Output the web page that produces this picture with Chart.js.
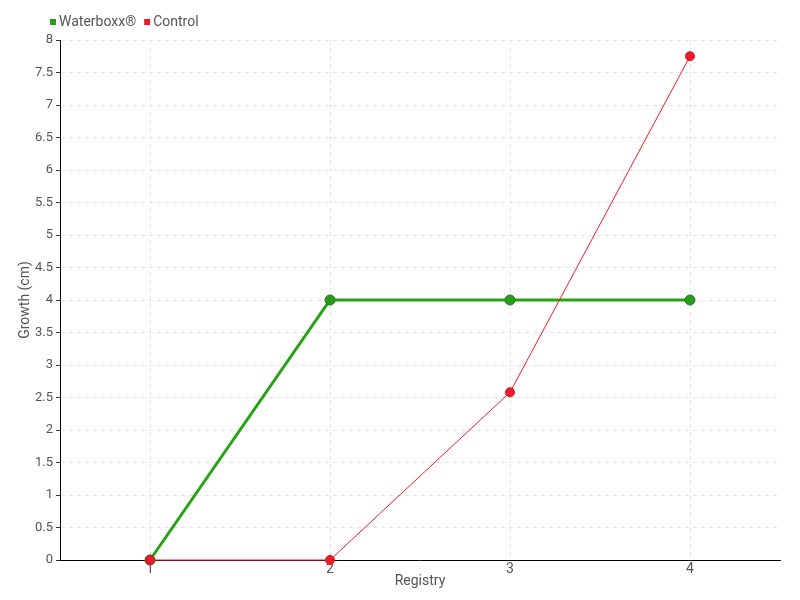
<!DOCTYPE html>
<html><head><meta charset="utf-8">
<script src="https://cdn.jsdelivr.net/npm/chart.js@4/dist/chart.umd.min.js"></script>
<style>html,body{margin:0;padding:0;background:#fff}#wrap{width:800px;height:600px}</style>
</head><body><div id="wrap"><canvas id="c" width="800" height="600"></canvas></div>
<script>
const categories = ['1', '2', '3', '4'];
const waterboxx = [0, 4, 4, 4];
const control = [0, 0, 2.58, 7.75];
const seriesNames = ['Waterboxx®', 'Control'];
const yTitle = 'Growth (cm)';
const xTitle = 'Registry';

const FONT = "Roboto, sans-serif";
const GREEN = '#26a214';
const RED = '#ee1c2b';

const legendPlugin = {
  id: 'customLegend',
  afterDraw(chart) {
    const ctx = chart.ctx;
    ctx.save();
    ctx.font = '14px ' + FONT;
    ctx.textBaseline = 'middle';
    let x = 50;
    const y = 22;
    chart.data.datasets.forEach(ds => {
      ctx.fillStyle = ds.borderColor;
      ctx.fillRect(x, y - 3, 6, 6);
      x += 9;
      ctx.fillStyle = '#555';
      ctx.fillText(ds.label, x, y);
      x += ctx.measureText(ds.label).width + 8;
    });
    ctx.restore();
  }
};

new Chart(document.getElementById('c'), {
  type: 'line',
  data: {
    labels: categories,
    datasets: [
      {
        label: seriesNames[0], data: waterboxx, borderColor: GREEN, backgroundColor: GREEN,
        borderWidth: 3, pointRadius: 5, pointBackgroundColor: '#2a9a1e', pointBorderColor: '#1c7f12',
        pointBorderWidth: 1, tension: 0, order: 2, clip: 8
      },
      {
        label: seriesNames[1], data: control, borderColor: RED, backgroundColor: RED,
        borderWidth: 1, pointRadius: 4.5, pointBackgroundColor: RED, pointBorderColor: '#e0101f',
        pointBorderWidth: 1, tension: 0, order: 1, clip: 8
      }
    ]
  },
  options: {
    responsive: false,
    animation: false,
    layout: { padding: { top: 40, right: 20, left: 0, bottom: 0 } },
    plugins: { legend: { display: false }, tooltip: { enabled: false } },
    scales: {
      x: {
        offset: true,
        grid: { offset: false, color: '#e2e2e2', drawTicks: false, tickLength: 0 },
        border: { color: '#000', width: 1, dash: [4, 4] },
        ticks: { color: '#555', font: { family: FONT, size: 14 }, padding: 1 },
        title: { display: true, text: xTitle, color: '#555', font: { family: FONT, size: 14 }, padding: { top: 0, bottom: 10 } },
        afterFit(scale) { scale.height = 40; }
      },
      y: {
        min: 0, max: 8,
        grid: { color: '#e2e2e2', tickColor: '#333', tickLength: 4 },
        border: { color: '#000', width: 1, dash: [4, 4] },
        ticks: { stepSize: 0.5, color: '#555', font: { family: FONT, size: 13 }, padding: 3,
          callback: v => String(Number(v)) },
        title: { display: true, text: yTitle, color: '#555', font: { family: FONT, size: 14 }, padding: { top: 17, bottom: 0 } },
        afterFit(scale) { scale.width = 60; }
      }
    }
  },
  plugins: [legendPlugin]
});
</script>
</body></html>
